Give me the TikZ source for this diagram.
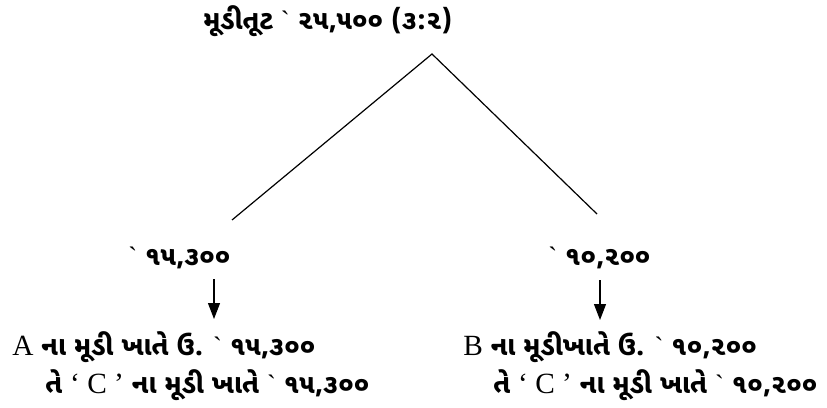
\documentclass[tikz,border=0pt]{standalone}
\usepackage{fontspec}
\setmainfont{Liberation Serif}
\newfontfamily\guj[Script=Gujarati]{Noto Sans Gujarati UI}
\newfontfamily\plainlat{Liberation Serif}
\newcommand\latn[1]{{\fontsize{22}{24}\selectfont\plainlat\mdseries #1}}
\newcommand\rs{{\fontsize{20}{22}\selectfont\plainlat\mdseries\char96}}
\usetikzlibrary{arrows.meta}
\begin{document}
\begin{tikzpicture}[x=0.75pt,y=-0.75pt,
  txt/.style={anchor=west,inner sep=0pt,font=\fontsize{20}{22}\selectfont\guj\bfseries},
  ln/.style={line width=0.9pt},
  arr/.style={line width=0.9pt,-{Triangle[length=12pt,width=9pt]}}]
\useasboundingbox (0,0) rectangle (827,407);
\node[txt] (top) at (203,21) {મૂડીતૂટ \rs{} ૨૫,૫૦૦ (૩:૨)};
\coordinate (apex) at (432,54);
\coordinate (lend) at (232,220);
\coordinate (rend) at (597,214);
\draw[ln] (lend) -- (apex) -- (rend);
\node[txt] (lamt) at (128,258) {\rs{} ૧૫,૩૦૦};
\node[txt] (ramt) at (548,258) {\rs{} ૧૦,૨૦૦};
\coordinate (la) at (214,279);
\coordinate (lb) at (214,319);
\coordinate (ra) at (600,280);
\coordinate (rb) at (600,320);
\draw[arr] (la) -- (lb);
\draw[arr] (ra) -- (rb);
\node[txt] (l1) at (12,347) {\latn{A} ના મૂડી ખાતે ઉ. \rs{} ૧૫,૩૦૦};
\node[txt] (l2) at (45,385) {તે \latn{‘ C ’} ના મૂડી ખાતે \rs{} ૧૫,૩૦૦};
\node[txt] (r1) at (463,347) {\latn{B} ના મૂડીખાતે ઉ. \rs{} ૧૦,૨૦૦};
\node[txt] (r2) at (493,385) {તે \latn{‘ C ’} ના મૂડી ખાતે \rs{} ૧૦,૨૦૦};
\end{tikzpicture}
\end{document}
